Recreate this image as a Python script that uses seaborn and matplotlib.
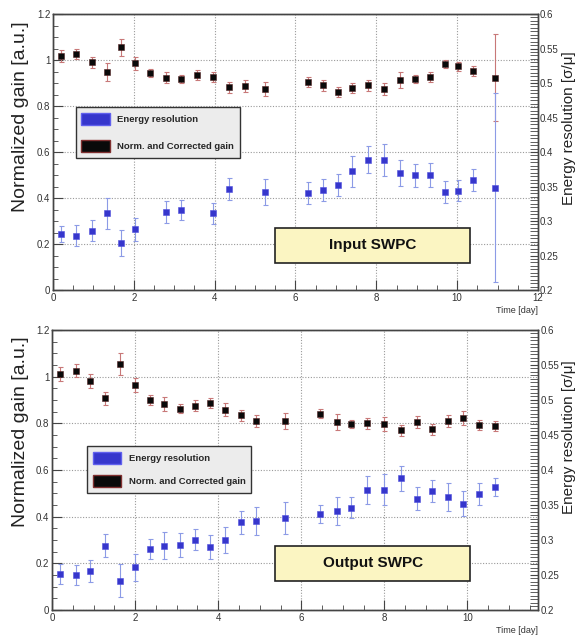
import numpy as np
import pandas as pd
import matplotlib
matplotlib.use("Agg")
import matplotlib.pyplot as plt
import seaborn as sns
from matplotlib.patches import Patch, Rectangle
from matplotlib.ticker import MultipleLocator, FuncFormatter

# ---- data ----
# Input SWPC (top)
top_gain_day = [0.20, 0.57, 0.97, 1.33, 1.69, 2.04, 2.40, 2.79, 3.17, 3.56, 3.95, 4.35, 4.75, 5.25,
                6.32, 6.67, 7.04, 7.40, 7.79, 8.19, 8.58, 8.95, 9.32, 9.69, 10.03, 10.39, 10.94]
top_gain = [1.017, 1.026, 0.990, 0.948, 1.055, 0.986, 0.945, 0.923, 0.919, 0.936, 0.927, 0.881, 0.887, 0.874,
            0.904, 0.890, 0.861, 0.877, 0.890, 0.874, 0.913, 0.919, 0.926, 0.981, 0.973, 0.952, 0.923]
top_gain_err = [0.026, 0.022, 0.025, 0.040, 0.036, 0.028, 0.018, 0.024, 0.017, 0.022, 0.022, 0.024, 0.025, 0.029,
                0.022, 0.025, 0.023, 0.022, 0.025, 0.027, 0.034, 0.018, 0.020, 0.017, 0.020, 0.020, 0.190]

top_res_day = [0.20, 0.57, 0.97, 1.33, 1.69, 2.04, 2.79, 3.17, 3.97, 4.35, 5.25,
               6.32, 6.67, 7.04, 7.40, 7.79, 8.19, 8.58, 8.95, 9.32, 9.69, 10.03, 10.39, 10.94]
top_res = [0.281, 0.279, 0.286, 0.311, 0.268, 0.288, 0.313, 0.316, 0.311, 0.346, 0.342,
           0.341, 0.345, 0.352, 0.372, 0.389, 0.388, 0.370, 0.366, 0.367, 0.342, 0.344, 0.360, 0.348]
top_res_err = [0.012, 0.015, 0.015, 0.022, 0.019, 0.017, 0.016, 0.015, 0.015, 0.016, 0.019,
               0.016, 0.016, 0.016, 0.022, 0.019, 0.023, 0.019, 0.017, 0.017, 0.016, 0.015, 0.016, 0.137]

# Output SWPC (bottom)
bot_day = [0.19, 0.58, 0.92, 1.28, 1.64, 2.00, 2.36, 2.69, 3.07, 3.44, 3.80, 4.17, 4.54, 4.90, 5.60,
           6.46, 6.85, 7.20, 7.58, 7.99, 8.40, 8.78, 9.15, 9.53, 9.88, 10.27, 10.66]
bot_gain = [1.010, 1.026, 0.981, 0.907, 1.054, 0.964, 0.900, 0.882, 0.863, 0.876, 0.887, 0.859, 0.835, 0.810, 0.810,
            0.841, 0.806, 0.796, 0.800, 0.796, 0.770, 0.806, 0.775, 0.809, 0.822, 0.794, 0.790]
bot_gain_err = [0.030, 0.026, 0.030, 0.029, 0.046, 0.031, 0.021, 0.031, 0.021, 0.025, 0.021, 0.029, 0.024, 0.025, 0.034,
                0.019, 0.034, 0.018, 0.023, 0.030, 0.024, 0.026, 0.024, 0.026, 0.029, 0.021, 0.021]
bot_res = [0.251, 0.250, 0.256, 0.292, 0.242, 0.261, 0.287, 0.292, 0.293, 0.300, 0.290, 0.300, 0.325, 0.327, 0.331,
           0.337, 0.342, 0.346, 0.372, 0.372, 0.388, 0.359, 0.370, 0.362, 0.352, 0.366, 0.376]
bot_res_err = [0.014, 0.014, 0.016, 0.017, 0.024, 0.019, 0.014, 0.019, 0.017, 0.015, 0.017, 0.019, 0.017, 0.020, 0.023,
               0.013, 0.020, 0.015, 0.020, 0.022, 0.018, 0.016, 0.016, 0.020, 0.018, 0.016, 0.013]

panel_titles = ["Input SWPC", "Output SWPC"]
x_limits = [12, 11.7]

sns.set_style("ticks")
plt.rcParams['font.family'] = ['Liberation Sans', 'DejaVu Sans']

BLUE = '#3636cc'
BLUE_ERR = '#8c9be6'
BLACK = '#0a0a0a'
RED_ERR = '#c87878'
AXCOL = '#444444'

fig = plt.figure(figsize=(5.78, 6.35), dpi=100)
axes_pos = [[0.0917, 0.5433, 0.839, 0.4346], [0.090, 0.0394, 0.841, 0.441]]
legend_anchor = [(0.047, 0.663), (0.072, 0.586)]
legend_spacing = [1.6, 1.2]
title_box = [(0.458, 0.098, 0.402, 0.127), (0.459, 0.104, 0.401, 0.125)]
rlabel_y = [0.798, 0.311]
llabel_y = [0.817, 0.320]

panels = [
    (top_gain_day, top_gain, top_gain_err, top_res_day, top_res, top_res_err),
    (bot_day, bot_gain, bot_gain_err, bot_day, bot_res, bot_res_err),
]

for i, (gd, g, ge, rd, r, re) in enumerate(panels):
    ax = fig.add_axes(axes_pos[i])
    ax2 = ax.twinx()

    gain_df = pd.DataFrame({"day": gd, "gain": g, "err": ge})
    res_df = pd.DataFrame({"day": rd, "res": r, "err": re})

    # gain on the left axis
    ax.errorbar(gain_df["day"], gain_df["gain"], yerr=gain_df["err"], fmt='none',
                ecolor=RED_ERR, elinewidth=0.8, capsize=1.8, capthick=0.8, zorder=2)
    sns.scatterplot(data=gain_df, x="day", y="gain", ax=ax, marker='s', s=22,
                    color=BLACK, edgecolor='#552222', linewidth=0.4, zorder=3)

    # energy resolution on the right axis
    ax2.errorbar(res_df["day"], res_df["res"], yerr=res_df["err"], fmt='none',
                 ecolor=BLUE_ERR, elinewidth=0.8, capsize=1.8, capthick=0.8, zorder=2)
    sns.scatterplot(data=res_df, x="day", y="res", ax=ax2, marker='s', s=20,
                    color=BLUE, edgecolor='#5050dd', linewidth=0.4, zorder=3)

    ax.set_xlim(0, x_limits[i])
    ax.set_ylim(0, 1.2)
    ax2.set_ylim(0.2, 0.6)

    ax.xaxis.set_major_locator(MultipleLocator(2))
    ax.xaxis.set_minor_locator(MultipleLocator(0.5))
    ax.yaxis.set_major_locator(MultipleLocator(0.2))
    ax.yaxis.set_minor_locator(MultipleLocator(0.05))
    ax2.yaxis.set_major_locator(MultipleLocator(0.05))
    ax2.yaxis.set_minor_locator(MultipleLocator(0.005))
    fmt = FuncFormatter(lambda v, p: ('%g' % round(v, 3)))
    ax.yaxis.set_major_formatter(fmt)
    ax.xaxis.set_major_formatter(fmt)
    ax2.yaxis.set_major_formatter(fmt)

    ax.grid(True, which='major', color='#9a9a9a', linestyle=(0, (1, 1.5)), linewidth=0.8)
    ax.set_axisbelow(True)

    for a in (ax, ax2):
        for sp in a.spines.values():
            sp.set_color(AXCOL)
            sp.set_linewidth(1.0)
        a.tick_params(which='both', direction='in', colors=AXCOL, labelsize=7, labelcolor='#333333')
        a.tick_params(which='major', length=7, width=0.8)
        a.tick_params(which='minor', length=3.5, width=0.6)
    ax.tick_params(axis='x', which='both', top=False, pad=2)
    ax.tick_params(axis='y', which='both', right=False, pad=2)
    ax2.tick_params(axis='y', which='major', length=6, pad=1.5)
    ax2.tick_params(axis='y', which='minor', length=6)

    ax.set_xlabel("")
    ax.set_ylabel("")
    ax2.set_ylabel("")
    ax.text(1.0, -0.075, "Time [day]", transform=ax.transAxes, ha='right', va='center',
            fontsize=6.5, color='#333333')
    fig.text(0.035, llabel_y[i], "Normalized gain [a.u.]", rotation=90,
             ha='center', va='center', fontsize=14, color='#222222')
    fig.text(0.984, rlabel_y[i], "Energy resolution [\u03c3/\u03bc]", rotation=90,
             ha='center', va='center', fontsize=11, color='#222222')

    handles = [Patch(facecolor=BLUE, edgecolor='#6060ee', label="Energy resolution"),
               Patch(facecolor=BLACK, edgecolor='#803030', label="Norm. and Corrected gain")]
    leg = ax2.legend(handles=handles, loc='upper left', bbox_to_anchor=legend_anchor[i],
                     borderaxespad=0, frameon=True, fancybox=False,
                     prop={'weight': 'bold', 'size': 6.8}, handlelength=3.0,
                     handleheight=1.6, labelspacing=legend_spacing[i], borderpad=0.6,
                     handletextpad=0.8)
    leg.get_frame().set_facecolor('#ececec')
    leg.get_frame().set_edgecolor('#333333')
    leg.get_frame().set_linewidth(1.0)
    leg.get_frame().set_alpha(1)
    leg.set_zorder(10)

    bx, by, bw, bh = title_box[i]
    ax2.add_patch(Rectangle((bx, by), bw, bh, transform=ax2.transAxes, facecolor='#fbf5c2',
                            edgecolor='#222222', linewidth=1.2, zorder=8))
    ax2.text(bx + bw / 2, by + bh / 2, panel_titles[i], transform=ax2.transAxes,
             ha='center', va='center', fontsize=11, fontweight='bold', color='#111111', zorder=9)

fig.savefig("out.png", dpi=100)
